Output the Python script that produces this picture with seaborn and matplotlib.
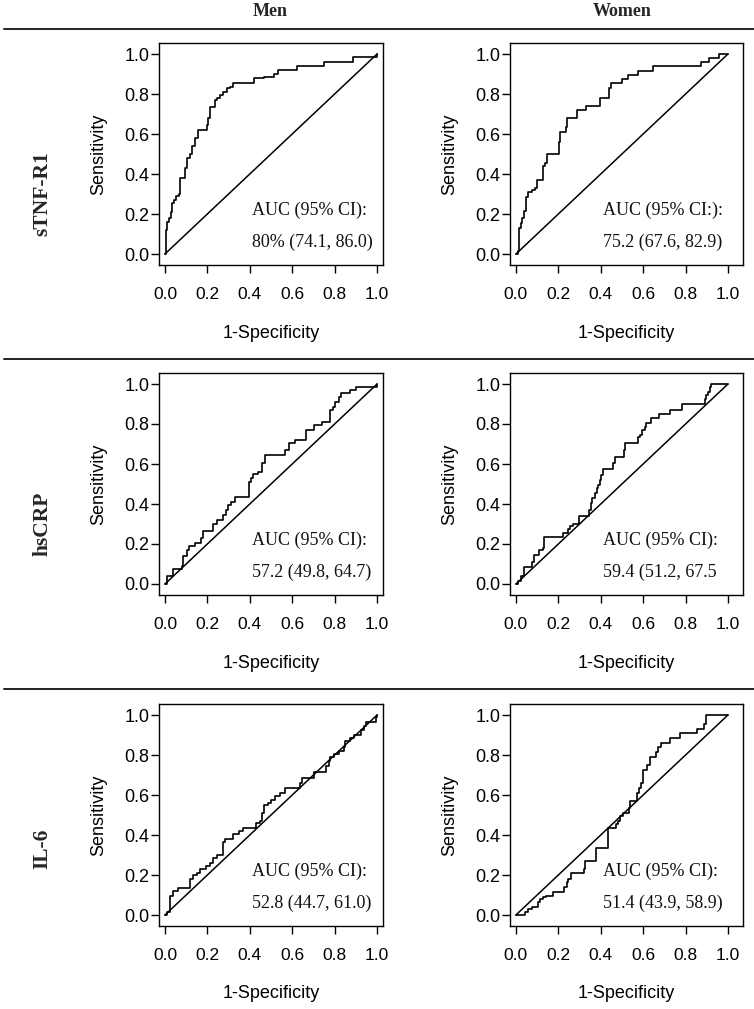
import numpy as np
import pandas as pd
import matplotlib
matplotlib.use("Agg")
import matplotlib.pyplot as plt
import seaborn as sns

# ---------------- data ----------------
markers = ["sTNF-R1", "hsCRP", "IL-6"]
groups = ["Men", "Women"]

men_stnf_fpr = [0, 0.005, 0.005, 0.01, 0.02, 0.027, 0.035, 0.043, 0.05, 0.066, 0.071, 0.087, 0.094, 0.102, 0.118, 0.126, 0.142, 0.157, 0.189, 0.197, 0.205, 0.213, 0.228, 0.236, 0.244, 0.26, 0.276, 0.291, 0.307, 0.323, 0.417, 0.422, 0.465, 0.512, 0.535, 0.622, 0.74, 0.748, 0.882, 0.887, 0.992, 1.0]
men_stnf_tpr = [0, 0.03, 0.12, 0.16, 0.18, 0.21, 0.255, 0.27, 0.29, 0.30, 0.38, 0.38, 0.43, 0.48, 0.50, 0.54, 0.58, 0.62, 0.62, 0.645, 0.68, 0.735, 0.735, 0.77, 0.78, 0.795, 0.81, 0.83, 0.837, 0.857, 0.857, 0.878, 0.887, 0.90, 0.92, 0.94, 0.94, 0.96, 0.96, 0.987, 0.987, 1.0]

women_stnf_fpr = [0, 0.01, 0.016, 0.022, 0.03, 0.038, 0.046, 0.058, 0.078, 0.089, 0.10, 0.129, 0.137, 0.148, 0.204, 0.21, 0.235, 0.242, 0.286, 0.33, 0.396, 0.44, 0.45, 0.502, 0.529, 0.576, 0.647, 0.871, 0.91, 0.958, 1.0]
women_stnf_tpr = [0, 0.013, 0.13, 0.155, 0.18, 0.213, 0.285, 0.308, 0.32, 0.33, 0.368, 0.438, 0.457, 0.50, 0.562, 0.61, 0.637, 0.68, 0.72, 0.74, 0.78, 0.83, 0.853, 0.873, 0.895, 0.917, 0.942, 0.962, 0.982, 1.0, 1.0]

men_crp_fpr = [0, 0.008, 0.036, 0.079, 0.083, 0.102, 0.115, 0.142, 0.17, 0.181, 0.228, 0.244, 0.276, 0.287, 0.299, 0.31, 0.331, 0.394, 0.405, 0.417, 0.441, 0.457, 0.472, 0.567, 0.583, 0.614, 0.666, 0.701, 0.74, 0.78, 0.792, 0.803, 0.819, 0.83, 0.874, 0.902, 1.0]
men_crp_tpr = [0, 0.038, 0.075, 0.09, 0.138, 0.17, 0.188, 0.205, 0.23, 0.263, 0.30, 0.32, 0.346, 0.37, 0.396, 0.41, 0.437, 0.512, 0.53, 0.55, 0.562, 0.604, 0.646, 0.67, 0.704, 0.72, 0.77, 0.795, 0.81, 0.87, 0.887, 0.912, 0.937, 0.957, 0.97, 0.987, 1.0]

women_crp_fpr = [0, 0.011, 0.022, 0.038, 0.078, 0.085, 0.11, 0.126, 0.133, 0.22, 0.246, 0.257, 0.27, 0.298, 0.345, 0.352, 0.361, 0.372, 0.38, 0.388, 0.396, 0.403, 0.411, 0.458, 0.466, 0.509, 0.516, 0.576, 0.584, 0.595, 0.608, 0.615, 0.639, 0.675, 0.728, 0.785, 0.89, 0.895, 0.906, 0.914, 0.921, 1.0]
women_crp_tpr = [0, 0.013, 0.038, 0.085, 0.108, 0.146, 0.168, 0.18, 0.235, 0.255, 0.275, 0.288, 0.30, 0.338, 0.371, 0.404, 0.43, 0.454, 0.479, 0.496, 0.52, 0.546, 0.574, 0.604, 0.634, 0.67, 0.704, 0.734, 0.745, 0.77, 0.787, 0.804, 0.829, 0.85, 0.87, 0.90, 0.927, 0.943, 0.96, 0.983, 1.0, 1.0]

men_il6_fpr = [0, 0.008, 0.024, 0.036, 0.063, 0.118, 0.131, 0.15, 0.165, 0.194, 0.213, 0.228, 0.244, 0.276, 0.283, 0.323, 0.351, 0.37, 0.43, 0.449, 0.457, 0.468, 0.488, 0.499, 0.52, 0.543, 0.567, 0.638, 0.646, 0.701, 0.761, 0.772, 0.78, 0.795, 0.819, 0.843, 0.85, 0.874, 0.89, 0.924, 0.94, 0.95, 0.997, 1.0]
men_il6_tpr = [0, 0.013, 0.096, 0.121, 0.133, 0.179, 0.20, 0.212, 0.232, 0.245, 0.262, 0.287, 0.30, 0.365, 0.381, 0.403, 0.42, 0.436, 0.461, 0.469, 0.511, 0.552, 0.56, 0.577, 0.597, 0.61, 0.635, 0.66, 0.685, 0.713, 0.746, 0.771, 0.792, 0.804, 0.82, 0.842, 0.87, 0.886, 0.898, 0.927, 0.947, 0.963, 0.992, 1.0]

women_il6_fpr = [0, 0.042, 0.058, 0.074, 0.102, 0.113, 0.126, 0.144, 0.176, 0.228, 0.239, 0.246, 0.262, 0.32, 0.325, 0.377, 0.432, 0.435, 0.471, 0.482, 0.493, 0.505, 0.534, 0.54, 0.573, 0.581, 0.592, 0.60, 0.62, 0.631, 0.659, 0.67, 0.686, 0.725, 0.776, 0.856, 0.885, 0.898, 1.0]
women_il6_tpr = [0, 0.017, 0.03, 0.041, 0.063, 0.08, 0.088, 0.096, 0.113, 0.138, 0.163, 0.179, 0.209, 0.229, 0.27, 0.336, 0.39, 0.436, 0.453, 0.47, 0.494, 0.51, 0.536, 0.57, 0.61, 0.635, 0.66, 0.725, 0.75, 0.79, 0.816, 0.84, 0.862, 0.887, 0.912, 0.929, 0.955, 1.0, 1.0]

auc_headers = [["AUC (95% CI):", "AUC (95% CI:):"],
               ["AUC (95% CI):", "AUC (95% CI):"],
               ["AUC (95% CI):", "AUC (95% CI):"]]
auc_values = [["80% (74.1, 86.0)", "75.2 (67.6, 82.9)"],
              ["57.2 (49.8, 64.7)", "59.4 (51.2, 67.5"],
              ["52.8 (44.7, 61.0)", "51.4 (43.9, 58.9)"]]

curves = [[(men_stnf_fpr, men_stnf_tpr), (women_stnf_fpr, women_stnf_tpr)],
          [(men_crp_fpr, men_crp_tpr), (women_crp_fpr, women_crp_tpr)],
          [(men_il6_fpr, men_il6_tpr), (women_il6_fpr, women_il6_tpr)]]

tick_vals = [0.0, 0.2, 0.4, 0.6, 0.8, 1.0]
tick_labels = ["0.0", "0.2", "0.4", "0.6", "0.8", "1.0"]

# ---------------- styling ----------------
sns.set_theme(style="ticks")
plt.rcParams["font.family"] = ["Liberation Sans", "DejaVu Sans"]
plt.rcParams["axes.linewidth"] = 1.0
plt.rcParams["axes.edgecolor"] = "black"

W, H = 754, 1009
fig = plt.figure(figsize=(W / 100, H / 100), dpi=100)

row_tops = [43, 373, 704]
col_lefts = [159, 510]
col_widths = [224, 233]
ax_h = 222
xlims = [(-0.028, 1.028), (-0.028, 1.071)]

serif = ["Liberation Serif", "DejaVu Serif"]

for r in range(3):
    for c in range(2):
        left = col_lefts[c] / W
        bottom = 1 - (row_tops[r] + ax_h) / H
        ax = fig.add_axes([left, bottom, col_widths[c] / W, ax_h / H])
        fpr, tpr = curves[r][c]
        df = pd.DataFrame({"fpr": fpr, "tpr": tpr})
        sns.lineplot(data=df, x="fpr", y="tpr", ax=ax, color="black", lw=1.2,
                     estimator=None, sort=False, drawstyle="steps-post")
        ref = pd.DataFrame({"x": [0, 1], "y": [0, 1]})
        sns.lineplot(data=ref, x="x", y="y", ax=ax, color="black", lw=1.1,
                     estimator=None, sort=False)
        ax.set_xlim(*xlims[c])
        ax.set_ylim(-0.055, 1.055)
        ax.set_xticks(tick_vals)
        ax.set_xticklabels(tick_labels)
        ax.set_yticks(tick_vals)
        ax.set_yticklabels(tick_labels)
        ax.tick_params(axis="both", direction="out", length=6, width=1.0,
                       color="black", labelcolor="black")
        ax.tick_params(axis="x", pad=10, labelsize=12.5)
        ax.tick_params(axis="y", pad=1, labelsize=13)
        for s in ax.spines.values():
            s.set_visible(True)
            s.set_color("black")
            s.set_linewidth(1.0)
        ax.set_xlabel("1-Specificity", fontsize=13, color="black")
        ax.set_ylabel("Sensitivity", fontsize=13, color="black")
        ax.xaxis.set_label_coords(0.5, -68 / ax_h)
        ax.yaxis.set_label_coords(-60 / col_widths[c], 0.5)
        ax.xaxis.label.set_va("center")
        ax.yaxis.label.set_va("center")
        ax.text(0.41, 0.22, auc_headers[r][c], fontsize=13, family=serif,
                ha="left", va="center", color="#111111")
        ax.text(0.41, 0.06, auc_values[r][c], fontsize=13, family=serif,
                ha="left", va="center", color="#111111")

# headers
fig.text(270 / W, 1 - 12 / H, groups[0], fontsize=13, fontweight="bold",
         family=serif, ha="center", va="center")
fig.text(622 / W, 1 - 12 / H, groups[1], fontsize=13, fontweight="bold",
         family=serif, ha="center", va="center")

# separators
for yy in [29, 359, 689]:
    fig.add_artist(plt.Line2D([4 / W, 1.0], [1 - yy / H, 1 - yy / H],
                              transform=fig.transFigure, color="#222222", lw=1.4))

# row labels
for yc, lab in zip([194, 524, 849], markers):
    fig.text(42 / W, 1 - yc / H, lab, fontsize=15.5, fontweight="bold",
             family=serif, rotation=90, ha="center", va="center")

fig.savefig("out.png", dpi=100)
